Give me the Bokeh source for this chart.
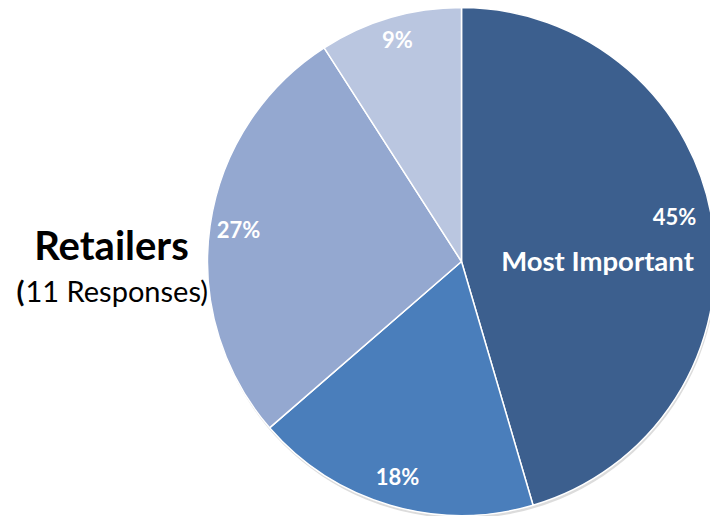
import math
from bokeh.plotting import figure
from bokeh.models import Range1d, ColumnDataSource
from bokeh.core.properties import value
from bokeh.embed import file_html
from bokeh.resources import INLINE

# ---- data ----
categories = ["Most Important", "Second", "Third", "Least Important"]
counts = [5, 2, 3, 1]
labels = ["45%", "18%", "27%", "9%"]
colors = ["#3C5F8E", "#4A7EBB", "#94A8D0", "#BAC6E0"]
title_main = "Retailers"
title_sub_paren = "("
title_sub = "11 Responses)"

W, H = 710, 516
FONT = "Lato"

def Y(py):
    return H - py

cx, cy, R = 461, Y(261), 254

total = sum(counts)
starts, ends = [], []
a = math.pi / 2
for c in counts:
    end = a - 2 * math.pi * c / total
    starts.append(end)
    ends.append(a)
    a = end

p = figure(width=W, height=H, output_backend="svg", toolbar_location=None,
           x_range=Range1d(0, W), y_range=Range1d(0, H), min_border=0)
p.axis.visible = False
p.grid.visible = False
p.outline_line_color = None
p.background_fill_color = "white"

# subtle shadow
p.circle(x=[cx + 1], y=[cy - 3], radius=R, fill_color="#9a9a9a", fill_alpha=0.35, line_color=None)

src = ColumnDataSource(dict(start=starts, end=ends, color=colors))
p.wedge(x=cx, y=cy, radius=R, start_angle="start", end_angle="end",
        fill_color="color", line_color="white", line_width=1.5, source=src)

# slice labels (pixel-placed layout constants)
lab_pos = [(674, 216), (397, 476), (238, 229), (397, 39)]
p.text(x=[q[0] for q in lab_pos], y=[Y(q[1]) for q in lab_pos], text=labels,
       text_color="white", text_font=value(FONT), text_font_style="bold",
       text_font_size="22px", text_align="center", text_baseline="alphabetic")

p.text(x=[597], y=[Y(260)], text=[categories[0]], text_color="white",
       text_font=value(FONT), text_font_style="bold", text_font_size="27.5px",
       text_align="center", text_baseline="alphabetic")

p.text(x=[111], y=[Y(244)], text=[title_main], text_color="black",
       text_font=value(FONT), text_font_style="bold", text_font_size="40px",
       text_align="center", text_baseline="alphabetic")
p.text(x=[16], y=[Y(290)], text=[title_sub_paren], text_color="black",
       text_font=value(FONT), text_font_style="bold", text_font_size="29px",
       text_align="left", text_baseline="alphabetic")
p.text(x=[25], y=[Y(290)], text=[title_sub], text_color="black",
       text_font=value(FONT), text_font_size="29px",
       text_align="left", text_baseline="alphabetic")

open("out.html", "w").write(file_html(p, INLINE))
